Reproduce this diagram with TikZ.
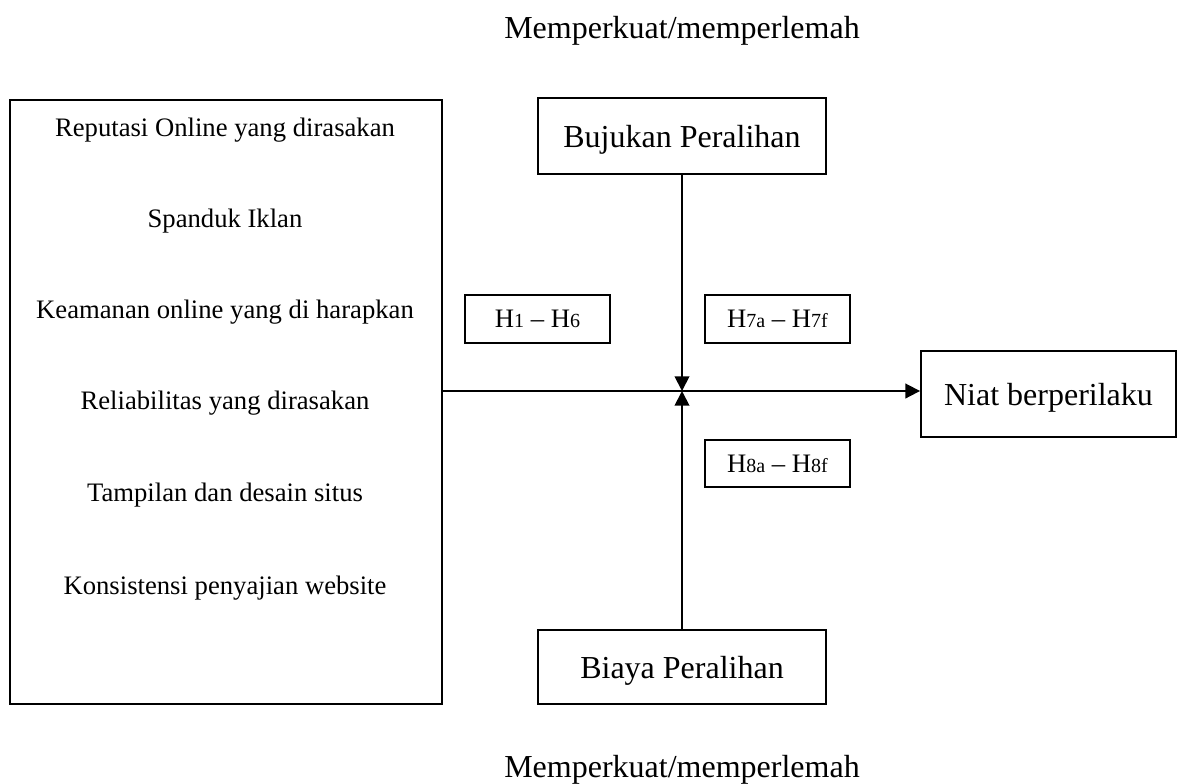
\documentclass[tikz,border=0pt]{standalone}
\usepackage{fontspec}
\setmainfont{Liberation Serif}
\usetikzlibrary{arrows.meta}
\begin{document}
\begin{tikzpicture}[x=0.75pt,y=-0.75pt,
  boxline/.style={draw=black,line width=1.4pt},
  bigtext/.style={font=\fontsize{24}{28}\selectfont},
  smalltext/.style={font=\fontsize{20}{24}\selectfont},
  conn/.style={line width=1.4pt,-{Triangle[length=11pt,width=11pt]}}]
\useasboundingbox (0,0) rectangle (1186,783);
% frames
\draw[boxline] (10,100) rectangle (442,704);
\node[boxline,minimum width=288*0.75pt,minimum height=76*0.75pt,inner sep=0pt,text depth=0pt,bigtext] (bujukan) at (682,136) {Bujukan Peralihan};
\node[boxline,minimum width=288*0.75pt,minimum height=74*0.75pt,inner sep=0pt,text depth=0pt,bigtext] (biaya) at (682,667) {Biaya Peralihan};
\node[boxline,minimum width=255*0.75pt,minimum height=86*0.75pt,inner sep=0pt,text depth=0pt,bigtext] (niat) at (1048.5,394) {Niat berperilaku};
\node[boxline,minimum width=145*0.75pt,minimum height=48*0.75pt,inner sep=0pt,smalltext] (h1) at (537.5,319) {H{\fontsize{15}{18}\selectfont 1} – H{\fontsize{15}{18}\selectfont 6}};
\node[boxline,minimum width=145*0.75pt,minimum height=48*0.75pt,inner sep=0pt,smalltext] (h7) at (777.5,319) {H{\fontsize{15}{18}\selectfont 7a} – H{\fontsize{15}{18}\selectfont 7f}};
\node[boxline,minimum width=145*0.75pt,minimum height=47*0.75pt,inner sep=0pt,smalltext] (h8) at (777.5,463.5) {H{\fontsize{15}{18}\selectfont 8a} – H{\fontsize{15}{18}\selectfont 8f}};
% left box texts
\node[smalltext] (t1) at (225,130) {Reputasi Online yang dirasakan};
\node[smalltext] (t2) at (225,221) {Spanduk Iklan};
\node[smalltext] (t3) at (225,312) {Keamanan online yang di harapkan};
\node[smalltext] (t4) at (225,403) {Reliabilitas yang dirasakan};
\node[smalltext] (t5) at (225,495) {Tampilan dan desain situs};
\node[smalltext] (t6) at (225,588) {Konsistensi penyajian website};
% outside labels
\node[bigtext] (top) at (682,31) {Memperkuat/memperlemah};
\node[bigtext] (bot) at (682,770) {Memperkuat/memperlemah};
% connectors
\coordinate (src) at (442,391);
\coordinate (mid) at (682,391);
\draw[conn] (src) -- (niat.west |- src);
\draw[conn] (bujukan.south) -- (mid);
\draw[conn] (biaya.north) -- (mid);
\end{tikzpicture}
\end{document}
